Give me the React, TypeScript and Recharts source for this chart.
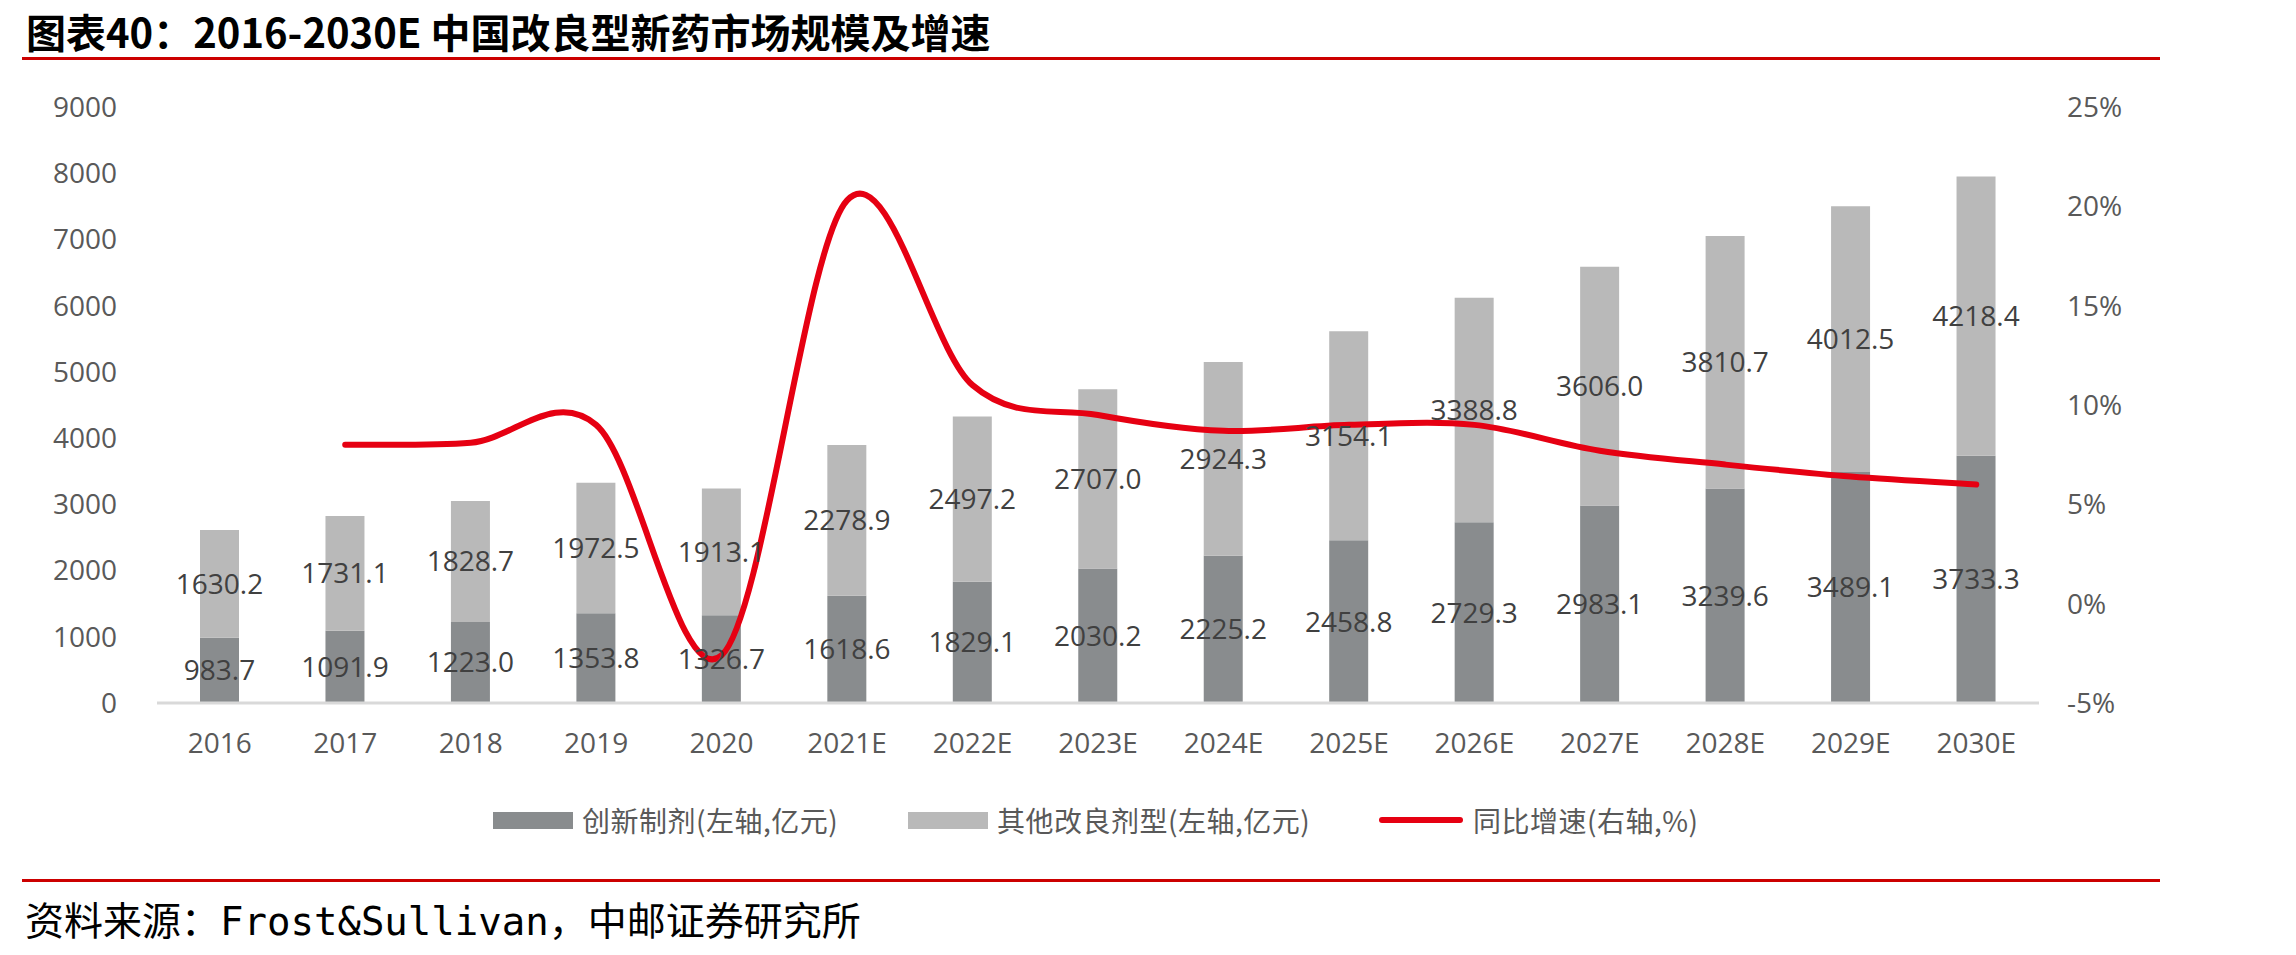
import React from 'react';
import { ComposedChart, Bar, Line, XAxis, YAxis, Legend, LabelList } from 'recharts';

const years = ['2016', '2017', '2018', '2019', '2020', '2021E', '2022E', '2023E', '2024E', '2025E', '2026E', '2027E', '2028E', '2029E', '2030E'];
const innovative = [983.7, 1091.9, 1223.0, 1353.8, 1326.7, 1618.6, 1829.1, 2030.2, 2225.2, 2458.8, 2729.3, 2983.1, 3239.6, 3489.1, 3733.3];
const otherModified = [1630.2, 1731.1, 1828.7, 1972.5, 1913.1, 2278.9, 2497.2, 2707.0, 2924.3, 3154.1, 3388.8, 3606.0, 3810.7, 4012.5, 4218.4];
const growth: (number | null)[] = [null, 8.0, 8.1, 9.0, -2.6, 20.3, 11.0, 9.5, 8.7, 9.0, 9.0, 7.7, 7.0, 6.4, 6.0];
const leftTicks = [0, 1000, 2000, 3000, 4000, 5000, 6000, 7000, 8000, 9000];
const rightTicks = [-5, 0, 5, 10, 15, 20, 25];

const seriesNames = {
  innovative: '创新制剂(左轴,亿元)',
  otherModified: '其他改良剂型(左轴,亿元)',
  growth: '同比增速(右轴,%)',
};

const data = years.map((y, i) => ({
  year: y,
  innovative: innovative[i],
  otherModified: otherModified[i],
  growth: growth[i],
}));

const DARK = '#898C8E';
const LIGHT = '#B9B9B9';
const RED = '#E60012';
const TICK = '#595959';
const LABEL = '#404040';

// Excel-like smoothed line (Catmull-Rom style bezier)
function excelCurve(context: any) {
  let pts: [number, number][] = [];
  return {
    areaStart() {},
    areaEnd() {},
    lineStart() {
      pts = [];
    },
    lineEnd() {
      const n = pts.length;
      if (n === 0) return;
      context.moveTo(pts[0][0], pts[0][1]);
      if (n === 1) {
        context.lineTo(pts[0][0], pts[0][1]);
        return;
      }
      for (let i = 0; i < n - 1; i++) {
        const p0 = pts[i - 1] || pts[i];
        const p1 = pts[i];
        const p2 = pts[i + 1];
        const p3 = pts[i + 2] || p2;
        const c1x = p1[0] + (p2[0] - p0[0]) / 6;
        const c1y = p1[1] + (p2[1] - p0[1]) / 6;
        const c2x = p2[0] - (p3[0] - p1[0]) / 6;
        const c2y = p2[1] - (p3[1] - p1[1]) / 6;
        context.bezierCurveTo(c1x, c1y, c2x, c2y, p2[0], p2[1]);
      }
    },
    point(x: number, y: number) {
      pts.push([+x, +y]);
    },
  };
}

const fmt = (v: any) => Number(v).toFixed(1);

const LegendContent = () => {
  const textStyle: React.CSSProperties = {
    position: 'absolute',
    top: 0,
    fontFamily: '"Noto Sans CJK SC", sans-serif',
    fontSize: 28,
    color: TICK,
    lineHeight: '40px',
    whiteSpace: 'nowrap',
    letterSpacing: 0.5,
  };
  return (
    <div style={{ position: 'relative', height: 40, width: 2296 }}>
      <div style={{ position: 'absolute', left: 493, top: 12, width: 80, height: 17, background: DARK }} />
      <div style={{ ...textStyle, left: 582 }}>{seriesNames.innovative}</div>
      <div style={{ position: 'absolute', left: 908, top: 12, width: 80, height: 17, background: LIGHT }} />
      <div style={{ ...textStyle, left: 997 }}>{seriesNames.otherModified}</div>
      <div style={{ position: 'absolute', left: 1379, top: 17, width: 84, height: 6, borderRadius: 3, background: RED }} />
      <div style={{ ...textStyle, left: 1473 }}>{seriesNames.growth}</div>
    </div>
  );
};

export default function App() {
  const tickStyle = { fill: TICK, fontSize: 28, fontFamily: '"Open Sans", sans-serif' };
  return (
    <div style={{ position: 'absolute', left: 0, top: 0, width: 2296, height: 955, background: '#fff', overflow: 'hidden' }}>
      <div
        style={{
          position: 'absolute',
          left: 26,
          top: 8,
          fontFamily: '"Noto Sans CJK SC", sans-serif',
          fontWeight: 700,
          fontSize: 40,
          lineHeight: '46px',
          color: '#000',
          whiteSpace: 'nowrap',
        }}
      >
        图表40：2016-2030E 中国改良型新药市场规模及增速
      </div>
      <div style={{ position: 'absolute', left: 22, top: 57, width: 2138, height: 3, background: '#CC0000' }} />

      <div style={{ position: 'absolute', left: 0, top: 0 }}>
        <ComposedChart
          width={2296}
          height={955}
          data={data}
          margin={{ top: 107, right: 157, bottom: 115, left: 57 }}
          barCategoryGap="0%"
        >
          <XAxis
            dataKey="year"
            xAxisId={0}
            height={97}
            tickLine={false}
            tickSize={0}
            tickMargin={30}
            axisLine={{ stroke: '#D9D9D9', strokeWidth: 3 }}
            tick={tickStyle}
            interval={0}
          />
          <YAxis
            yAxisId="left"
            orientation="left"
            width={100}
            domain={[0, 9000]}
            ticks={leftTicks}
            axisLine={false}
            tickLine={false}
            tickSize={0}
            tickMargin={40}
            tick={tickStyle}
            interval={0}
          />
          <YAxis
            yAxisId="right"
            orientation="right"
            width={100}
            domain={[-5, 25]}
            ticks={rightTicks}
            axisLine={false}
            tickLine={false}
            tickSize={0}
            tickMargin={28}
            tick={tickStyle}
            tickFormatter={(v: number) => `${v}%`}
            interval={0}
          />
          <Legend
            verticalAlign="bottom"
            align="left"
            width={2296}
            wrapperStyle={{ left: 0, width: 2296 }}
            content={() => <LegendContent />}
          />
          <Bar
            yAxisId="left"
            dataKey="innovative"
            name={seriesNames.innovative}
            stackId="a"
            fill={DARK}
            barSize={39}
            isAnimationActive={false}
          >
            <LabelList
              dataKey="innovative"
              position="center"
              formatter={fmt}
              fill={LABEL}
              fontSize={28}
              fontFamily='"Open Sans", sans-serif'
            />
          </Bar>
          <Bar
            yAxisId="left"
            dataKey="otherModified"
            name={seriesNames.otherModified}
            stackId="a"
            fill={LIGHT}
            barSize={39}
            isAnimationActive={false}
          >
            <LabelList
              dataKey="otherModified"
              position="center"
              formatter={fmt}
              fill={LABEL}
              fontSize={28}
              fontFamily='"Open Sans", sans-serif'
            />
          </Bar>
          <Line
            yAxisId="right"
            dataKey="growth"
            name={seriesNames.growth}
            type={excelCurve as any}
            stroke={RED}
            strokeWidth={6}
            strokeLinecap="round"
            dot={false}
            activeDot={false}
            connectNulls={false}
            isAnimationActive={false}
          />
        </ComposedChart>
      </div>

      <div style={{ position: 'absolute', left: 22, top: 879, width: 2138, height: 3, background: '#CC0000' }} />
      <div
        style={{
          position: 'absolute',
          left: 25,
          top: 900,
          fontFamily: '"DejaVu Sans Mono", "Noto Sans CJK SC", monospace',
          fontSize: 39,
          lineHeight: '44px',
          color: '#000',
          whiteSpace: 'nowrap',
        }}
      >
        资料来源：Frost&amp;Sullivan，中邮证券研究所
      </div>
    </div>
  );
}
